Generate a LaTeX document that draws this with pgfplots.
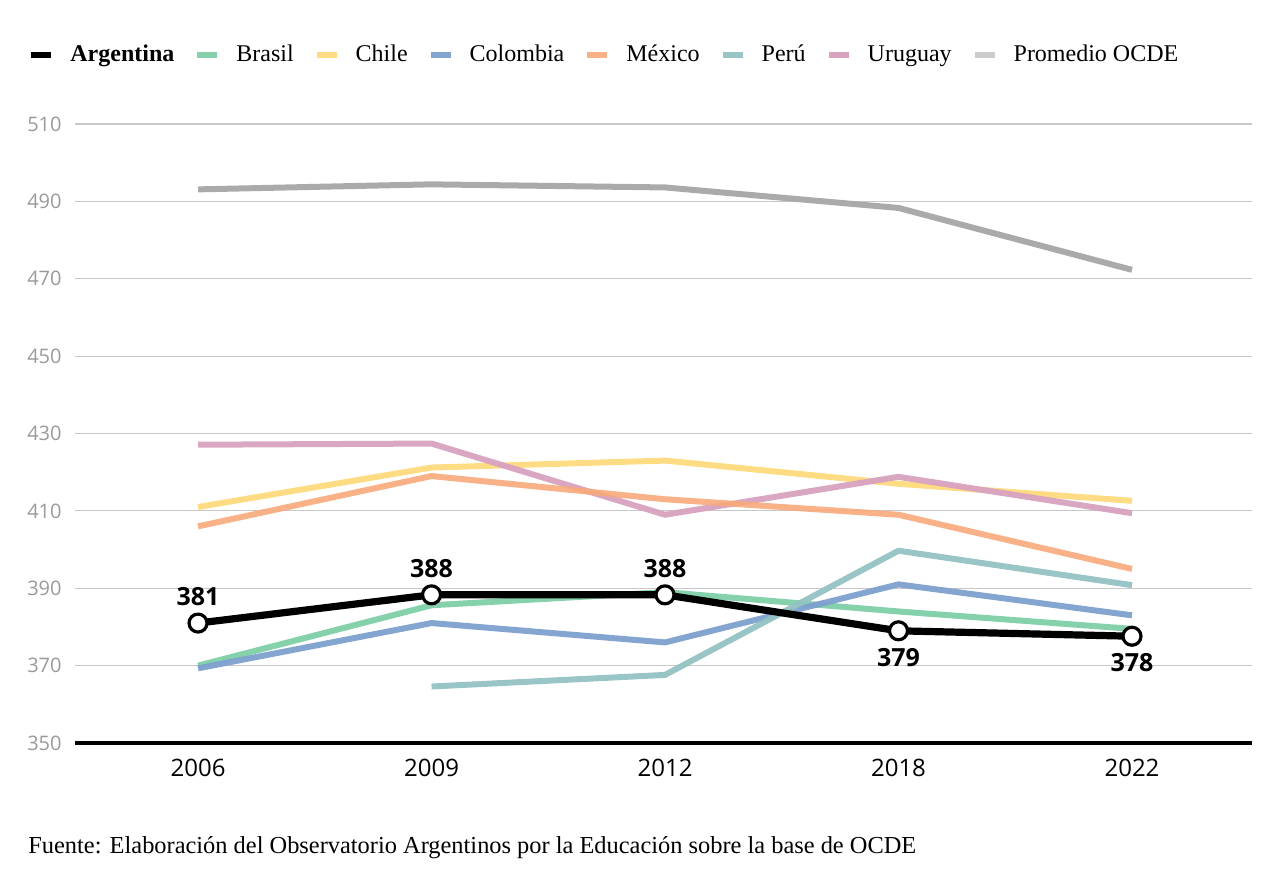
\documentclass[border=0pt]{standalone}
\usepackage{pgfplots}
\pgfplotsset{compat=1.18}
\usepackage{fontspec}
\setmainfont{Liberation Serif}
\newfontfamily\osans{Open Sans}
\definecolor{cbra}{HTML}{7DCFA8}
\definecolor{cchi}{HTML}{FDDA7C}
\definecolor{ccol}{HTML}{7EA0CF}
\definecolor{cmex}{HTML}{F8A97A}
\definecolor{cper}{HTML}{95C2C4}
\definecolor{curu}{HTML}{D8A2C0}
\definecolor{cocde}{HTML}{AAAAAA}
\definecolor{cocdeleg}{HTML}{CCCCCC}
\definecolor{cgrid}{HTML}{C8C8C8}
\definecolor{ctick}{HTML}{9A9A9A}
\begin{document}
\begin{tikzpicture}
\useasboundingbox (0,0) rectangle (640pt,440pt);
\begin{axis}[
  at={(37.5pt,68.5pt)}, anchor=south west,
  scale only axis, width=588.5pt, height=309.5pt,
  xmin=-0.527, xmax=4.514, ymin=350, ymax=510,
  axis x line*=bottom, axis y line*=left,
  x axis line style={black, line width=2pt, -},
  y axis line style={draw=none},
  major tick length=0pt,
  xtick={0,1,2,3,4}, xticklabels={2006,2009,2012,2018,2022},
  xticklabel style={font=\osans\fontsize{12}{12}\selectfont, black, inner sep=0pt, anchor=north, yshift=-8pt},
  ytick={350,370,...,510},
  yticklabel style={font=\osans\fontsize{10}{12}\selectfont, text=ctick, inner sep=0pt, anchor=east, xshift=-6.5pt},
  /pgf/number format/assume math mode=true,
  ymajorgrids, major grid style={cgrid, line width=0.6pt},
  legend image code/.code={\draw[line width=3pt] (0pt,0pt) -- (10pt,0pt);},
  legend columns=-1,
  legend style={at={(0,1)}, anchor=west, xshift=-23.5pt, yshift=34.5pt,
    draw=none, fill=none, inner sep=0pt, font=\fontsize{12}{14}\selectfont,
    nodes={inner sep=0pt},
    /tikz/every odd column/.append style={column sep=8pt},
    /tikz/every even column/.append style={column sep=10pt}},
  line join=round,
]
\addlegendimage{black, legend image code/.code={\draw[line width=3pt] (0pt,0pt) -- (10pt,0pt);}}
\addlegendentry{\bfseries Argentina}
\addplot[cbra, line width=3pt, opacity=0.95] coordinates {(0,370) (1,385.6) (2,389) (3,384) (4,379.5)};
\addlegendentry{Brasil}
\addplot[cchi, line width=3pt, opacity=0.95] coordinates {(0,411) (1,421.2) (2,423) (3,417) (4,412.6)};
\addlegendentry{Chile}
\addplot[ccol, line width=3pt, opacity=0.95] coordinates {(0,369.3) (1,381) (2,376) (3,391) (4,383)};
\addlegendentry{Colombia}
\addplot[curu, line width=3pt, opacity=0.95, forget plot] coordinates {(0,427.1) (1,427.4) (2,409) (3,418.8) (4,409.4)};
\addplot[cmex, line width=3pt, opacity=0.9] coordinates {(0,406) (1,419) (2,413) (3,409) (4,395)};
\addlegendentry{México}
\addplot[cper, line width=3pt, opacity=0.95] coordinates {(1,364.6) (2,367.6) (3,399.7) (4,390.8)};
\addlegendentry{Perú}
\addlegendimage{curu}
\addlegendentry{Uruguay}
\addplot[cocde, line width=3pt, legend image code/.code={\draw[cocdeleg, line width=3pt] (0pt,0pt) -- (10pt,0pt);}] coordinates {(0,493.1) (1,494.4) (2,493.6) (3,488.3) (4,472.3)};
\addlegendentry{Promedio OCDE}
\addplot[black, line width=3.6pt, mark=*, mark size=4.5pt,
  mark options={fill=white, draw=black, line width=1.6pt}, forget plot]
  coordinates {(0,381) (1,388.3) (2,388.3) (3,379) (4,377.6)};
\addplot[draw=none, mark=none, forget plot, nodes near coords, point meta=explicit symbolic,
  every node near coord/.append style={font=\osans\bfseries\fontsize{12.5}{13}\selectfont, black, anchor=south, inner sep=0pt, yshift=8.5pt}]
  coordinates {(0,381)[381] (1,388.3)[388] (2,388.3)[388]};
\addplot[draw=none, mark=none, forget plot, nodes near coords, point meta=explicit symbolic,
  every node near coord/.append style={font=\osans\bfseries\fontsize{12.5}{13}\selectfont, black, anchor=north, inner sep=0pt, yshift=-8.5pt}]
  coordinates {(3,379)[379] (4,377.6)[378]};
\end{axis}
\node[anchor=west, inner sep=0pt, font=\fontsize{12.2}{14}\selectfont] at (14pt,16pt)
  {Fuente: Elaboración del Observatorio Argentinos por la Educación sobre la base de OCDE};
\end{tikzpicture}
\end{document}
